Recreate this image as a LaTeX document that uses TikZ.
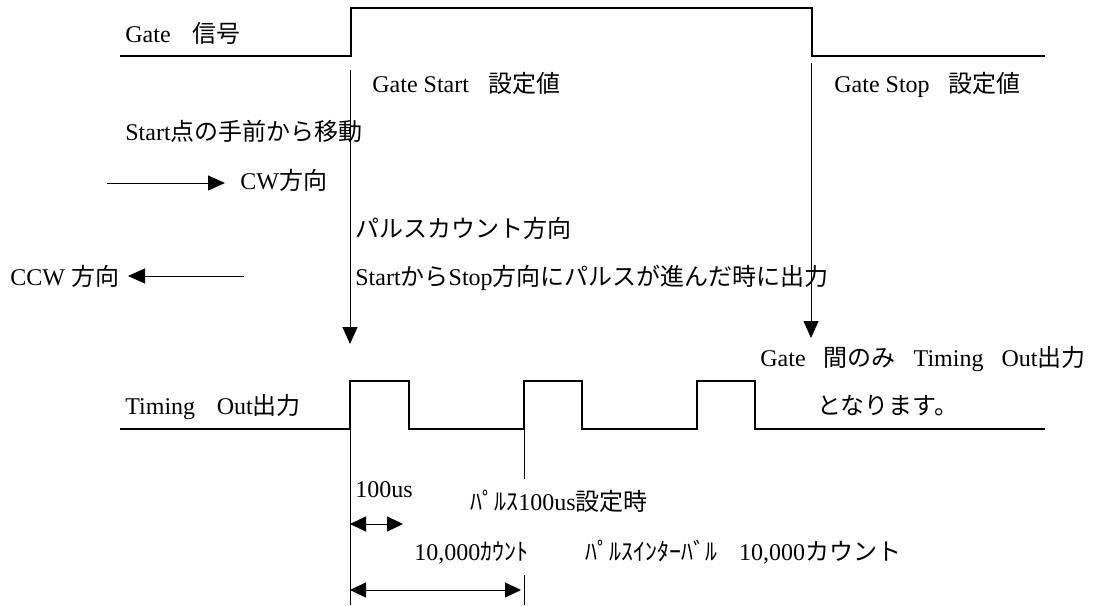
\documentclass[tikz,border=0pt]{standalone}
\usepackage{fontspec}
\setmainfont{Liberation Serif}
\newfontfamily\jp{Noto Sans CJK JP}
\usetikzlibrary{arrows.meta}
\begin{document}
\begin{tikzpicture}[x=0.5pt,y=-0.5pt,
        signal/.style={line width=1pt},
        guide/.style={line width=0.5pt},
        tip/.style={-{Triangle[length=8.5pt,width=7.5pt]}},
        span/.style={{Triangle[length=8pt,width=7.5pt]}-{Triangle[length=8pt,width=7.5pt]}},
        lbl/.style={inner sep=0pt,anchor=base west,font=\fontsize{12}{14}\selectfont}]
    \useasboundingbox (0,0) rectangle (1097,605);
    %% Gate signal
    \draw[signal] (120,56) -- (351,56) -- (351,8) -- (812,8) -- (812,56) -- (1045,56);
    \node[lbl] (gate) at (125,42) {Gate\hspace{0.9em}{\jp 信号}};
    %% Start and Stop settings
    \coordinate (startTop) at (350,70);
    \coordinate (startTip) at (350,344);
    \coordinate (stopTop) at (811,63);
    \coordinate (stopTip) at (811,338);
    \draw[guide,tip] (startTop) -- (startTip);
    \draw[guide,tip] (stopTop) -- (stopTip);
    \node[lbl] (gstart) at (372,92) {Gate Start\hspace{0.8em}{\jp 設定値}};
    \node[lbl] (gstop) at (834,92) {Gate Stop\hspace{0.8em}{\jp 設定値}};
    %% Direction of motion
    \node[lbl] (move) at (125,140) {Start{\jp 点の手前から移動}};
    \node[lbl] (cw) at (240,189) {CW{\jp 方向}};
    \coordinate (cwTail) at (107,183);
    \coordinate (cwHead) at (225,183);
    \draw[guide,tip] (cwTail) -- (cwHead);
    \node[lbl] (count) at (355,237) {{\jp パルスカウント方向}};
    \node[lbl] (ccw) at (10,285) {CCW {\jp 方向}};
    \coordinate (ccwTail) at (244,276);
    \coordinate (ccwHead) at (128,276);
    \draw[guide,tip] (ccwTail) -- (ccwHead);
    \node[lbl] (rule) at (355,285) {Start{\jp から}Stop{\jp 方向にパルスが進んだ時に出力}};
    %% Timing Out signal
    \draw[signal] (120,429) -- (350,429) -- (350,381) -- (409,381) -- (409,429)
        -- (524,429) -- (524,381) -- (582,381) -- (582,429)
        -- (697,429) -- (697,381) -- (755,381) -- (755,429) -- (1045,429);
    \node[lbl] (tout) at (125,414) {Timing\hspace{0.9em}Out{\jp 出力}};
    \node[lbl] (only) at (760,366) {Gate\hspace{0.75em}{\jp 間のみ}\hspace{0.75em}Timing\hspace{0.75em}Out{\jp 出力}};
    \node[lbl] (only2) at (817,414) {{\jp となります。}};
    %% Widths
    \coordinate (a0) at (350,429);
    \coordinate (a1) at (350,605);
    \coordinate (b0) at (524,429);
    \coordinate (b1) at (524,479);
    \coordinate (b2) at (524,575);
    \coordinate (b3) at (524,605);
    \draw[guide] (a0) -- (a1);
    \draw[guide] (b0) -- (b1);
    \draw[guide] (b2) -- (b3);
    \node[lbl] (width) at (355,497) {100us};
    \coordinate (w0) at (350,524);
    \coordinate (w1) at (403,524);
    \draw[guide,span] (w0) -- (w1);
    \node[lbl] (set) at (470,510) {{\jp ﾊﾟﾙｽ}100us{\jp 設定時}};
    \node[lbl] (cnt) at (414,560) {10,000{\jp ｶｳﾝﾄ}};
    \node[lbl] (intv) at (585,560) {{\jp ﾊﾟﾙｽｲﾝﾀｰﾊﾞﾙ}\hspace{0.9em}10,000{\jp カウント}};
    \coordinate (p0) at (350,590);
    \coordinate (p1) at (521,590);
    \draw[guide,span] (p0) -- (p1);
\end{tikzpicture}
\end{document}
